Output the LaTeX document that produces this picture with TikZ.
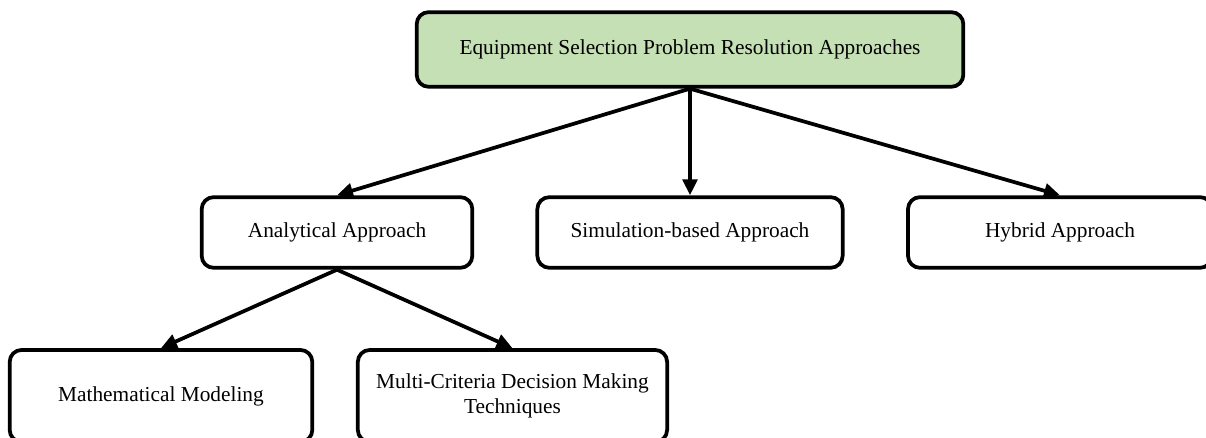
\documentclass[tikz,border=0pt]{standalone}
\usepackage{fontspec}
\setmainfont{Liberation Serif}
\usetikzlibrary{positioning}
\usetikzlibrary{arrows.meta}
\definecolor{rootgreen}{RGB}{197,224,180}
\tikzset{on grid,
every node/.style={font=\fontsize{16}{19}\selectfont},
approach/.style={
draw,
line width=2.8pt,
rounded corners=9pt,
fill=white,
align=center,
inner sep=0pt,
minimum height=53pt},
root/.style={
approach,
fill=rootgreen,
minimum width=410pt,
minimum height=56pt},
every edge/.style={
draw,
line width=2.8pt,
-{Triangle[length=12pt,width=11pt]}}}

\begin{document}
\begin{tikzpicture}
\useasboundingbox (0,0) rectangle (904.5pt,-327.75pt);
\node[root] (root) at (517.5pt,-37.1pt) {Equipment Selection Problem Resolution Approaches};
\node[approach, minimum width=229pt, below=137.25pt of root] (sim) {Simulation-based Approach};
\node[approach, minimum width=203pt, left=264.75pt of sim] (ana) {Analytical Approach};
\node[approach, minimum width=228pt, right=277.5pt of sim] (hyb) {Hybrid Approach};
\node[approach, minimum width=227pt, minimum height=69pt, below left=122.6pt and 132pt of ana] (math) {Mathematical Modeling};
\node[approach, minimum width=232pt, minimum height=69pt, below right=122.6pt and 131.6pt of ana] (mcdm) {Multi-Criteria Decision Making\\Techniques};
\draw (root.south) edge (ana.north);
\draw (root.south) edge (sim.north);
\draw (root.south) edge (hyb.north);
\draw (ana.south) edge (math.north);
\draw (ana.south) edge (mcdm.north);
\end{tikzpicture}
\end{document}
